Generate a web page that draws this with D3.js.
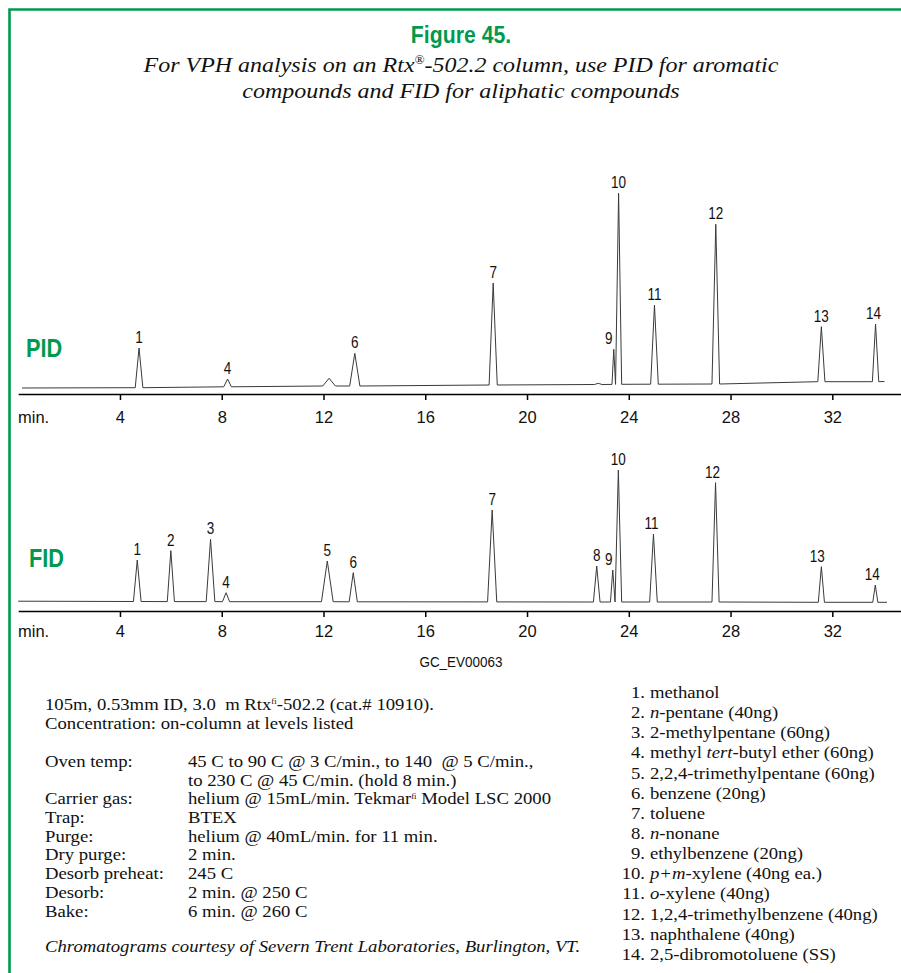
<!DOCTYPE html>
<html lang="en">
<head>
<meta charset="utf-8">
<title>Figure 45</title>
<style>
  body { margin: 0; background: #fff; }
  svg { display: block; }
  .green { fill: #009a4e; font-family: "Liberation Sans", Arial, sans-serif; font-weight: bold; }
  .serif { font-family: "Liberation Serif", "Times New Roman", serif; fill: #111; white-space: pre; }
  .sans { font-family: "Liberation Sans", Arial, sans-serif; fill: #111; }
  .trace { fill: none; stroke: #3a3a3a; stroke-width: 1; stroke-linejoin: round; }
  .axis path, .axis line { stroke: #000; stroke-width: 1.5; }
</style>
<script src="https://d3js.org/d3.v7.min.js"></script>
</head>
<body>
<div id="chart"></div>
<script>
var tickValues = [4, 8, 12, 16, 20, 24, 28, 32];

// PID: peak label, retention time (min), apex signal, base width (min), baseline under the peak
var pidLabels  = ["1", "4", "", "6", "7", "", "9", "10", "11", "12", "13", "14"];
var pidTimes   = [4.75, 8.23, 12.22, 13.23, 18.67, 22.8, 23.41, 23.6, 25.01, 27.42, 31.57, 33.7];
var pidHeights = [40, 9, 9.7, 34.7, 105, 4.7, 38.7, 194.7, 83, 163.7, 61.3, 64];
var pidWidths  = [0.3, 0.3, 0.5, 0.4, 0.32, 0.3, 0.14, 0.24, 0.3, 0.3, 0.28, 0.25];
var pidBase    = [0.3, 1.2, 2, 2, 3, 3.5, 3.6, 3.7, 3.8, 4, 6.3, 6.3];
var pidEnds    = [[0.15, 0], [34.05, 6.5]];

// FID
var fidLabels  = ["1", "2", "3", "4", "5", "6", "7", "8", "9", "10", "11", "12", "13", "14"];
var fidTimes   = [4.68, 6.0, 7.56, 8.17, 12.15, 13.17, 18.63, 22.74, 23.37, 23.59, 24.97, 27.41, 31.57, 33.69];
var fidHeights = [42, 51.3, 62.7, 9.3, 41, 29.3, 92, 36, 32, 132, 68, 119.3, 35.3, 17];
var fidWidths  = [0.3, 0.28, 0.34, 0.28, 0.46, 0.32, 0.36, 0.26, 0.18, 0.26, 0.3, 0.28, 0.24, 0.2];
var fidBase    = [0.5, 0.4, 0.4, 0.3, 0.3, 0.2, 0.1, 0, 0, 0, 0, 0, -0.3, -0.3];
var fidEnds    = [[0, 0.8], [34.15, -0.3]];

var compounds = [
  "methanol",
  "<i>n</i>-pentane (40ng)",
  "2-methylpentane (60ng)",
  "methyl <i>tert</i>-butyl ether (60ng)",
  "2,2,4-trimethylpentane (60ng)",
  "benzene (20ng)",
  "toluene",
  "<i>n</i>-nonane",
  "ethylbenzene (20ng)",
  "<i>p+m</i>-xylene (40ng ea.)",
  "<i>o</i>-xylene (40ng)",
  "1,2,4-trimethylbenzene (40ng)",
  "naphthalene (40ng)",
  "2,5-dibromotoluene (SS)"
];

var condLabels = ["Oven temp:", "", "Carrier gas:", "Trap:", "Purge:", "Dry purge:", "Desorb preheat:", "Desorb:", "Bake:"];
var condValues = [
  "45 C to 90 C @ 3 C/min., to 140  @ 5 C/min.,",
  "to 230 C @ 45 C/min. (hold 8 min.)",
  "helium @ 15mL/min. Tekmar^fi^ Model LSC 2000",
  "BTEX",
  "helium @ 40mL/min. for 11 min.",
  "2 min.",
  "245 C",
  "2 min. @ 250 C",
  "6 min. @ 260 C"
];

var W = 901, H = 973;
var svg = d3.select("#chart").append("svg").attr("width", W).attr("height", H);

svg.append("path")
  .attr("d", "M9.5," + H + "V9.5H" + W)
  .attr("fill", "none").attr("stroke", "#009a4e").attr("stroke-width", 2.6);

// condensed text: horizontal squeeze around the anchor point
function squeezed(parent, cls, px, py, sx, size, str, anchor) {
  return parent.append("text").attr("class", cls)
    .attr("transform", "translate(" + px + "," + py + ") scale(" + sx + ",1)")
    .attr("text-anchor", anchor || "start")
    .style("font-size", size + "px").text(str);
}

squeezed(svg, "green", 461, 43, 0.885, 24, "Figure 45.", "middle");

// write a string with ^sup^ and <i>italic</i> pieces into a text element
function rich(sel, str, supSize) {
  var parts = str.split(/(\^[^^]*\^|<i>.*?<\/i>)/);
  var shift = 0;
  parts.forEach(function(p) {
    if (!p) return;
    if (p[0] === "^") {
      sel.append("tspan").attr("dy", -supSize * 0.7).style("font-size", supSize + "px").text(p.slice(1, -1));
      shift = supSize * 0.7;
    } else if (p.indexOf("<i>") === 0) {
      sel.append("tspan").attr("dy", shift || null).style("font-style", "italic").text(p.slice(3, -4));
      shift = 0;
    } else {
      sel.append("tspan").attr("dy", shift || null).text(p);
      shift = 0;
    }
  });
}

var subG = svg.append("g").attr("transform", "translate(461,0) scale(1.09,1)");
var sub1 = subG.append("text").attr("class", "serif").attr("x", 0).attr("y", 72)
  .attr("text-anchor", "middle").style("font-style", "italic").style("font-size", "22px");
rich(sub1, "For VPH analysis on an Rtx^®^-502.2 column, use PID for aromatic", 12);
subG.append("text").attr("class", "serif").attr("x", 0).attr("y", 98)
  .attr("text-anchor", "middle").style("font-style", "italic").style("font-size", "22px")
  .text("compounds and FID for aliphatic compounds");

var x = d3.scaleLinear().domain([0, 34.7]).range([18.2, W]);

function drawPanel(p) {
  var y = d3.scaleLinear().domain([0, 200]).range([p.zeroY, p.zeroY - 200]);
  var g = svg.append("g");

  var axis = g.append("g").attr("class", "axis")
    .attr("transform", "translate(0," + p.axisY + ")")
    .call(d3.axisBottom(x).tickValues(tickValues).tickSize(6).tickSizeOuter(0));
  axis.selectAll("text")
    .attr("class", "sans").attr("y", p.tickY).attr("dy", null)
    .style("font-size", "16.5px").attr("fill", "#111");
  g.append("text").attr("class", "sans")
    .attr("x", 18).attr("y", p.axisY + p.tickY)
    .style("font-size", "16.5px").text("min.");

  var pts = [p.ends[0]];
  p.times.forEach(function(t, i) {
    pts.push([t - p.widths[i] / 2, p.base[i]]);
    pts.push([t, p.heights[i]]);
    pts.push([t + p.widths[i] / 2, p.base[i]]);
  });
  pts.push(p.ends[1]);

  g.append("path").attr("class", "trace")
    .attr("d", d3.line().x(function(d) { return x(d[0]); }).y(function(d) { return y(d[1]); })(pts));

  p.labels.forEach(function(lab, i) {
    if (!lab) return;
    squeezed(g, "sans", x(p.times[i]) + (p.nudge[lab] || 0), y(p.heights[i]) - 5, 0.82, 16.5, lab, "middle");
  });

  squeezed(g, "green", p.nameX, p.nameY, 0.82, 26.5, p.name);
}

drawPanel({
  name: "PID", nameX: 26, nameY: 357, zeroY: 388, axisY: 394, tickY: 29,
  labels: pidLabels, times: pidTimes, heights: pidHeights, widths: pidWidths, base: pidBase, ends: pidEnds,
  nudge: { "9": -5, "14": -2 }
});
drawPanel({
  name: "FID", nameX: 29, nameY: 567, zeroY: 602, axisY: 611, tickY: 26,
  labels: fidLabels, times: fidTimes, heights: fidHeights, widths: fidWidths, base: fidBase, ends: fidEnds,
  nudge: { "9": -4, "11": -2, "12": -3, "13": -4, "14": -3 }
});

squeezed(svg, "sans", 461, 667, 0.93, 14.5, "GC_EV00063", "middle");

// column and conditions block (Times, slightly widened like the print)
var left = svg.append("g").attr("transform", "translate(45,0) scale(1.1,1)");
var t1 = left.append("text").attr("class", "serif").attr("x", 0).attr("y", 710).style("font-size", "17px");
rich(t1, "105m, 0.53mm ID, 3.0  m Rtx^fi^-502.2 (cat.# 10910).", 8);
left.append("text").attr("class", "serif").attr("x", 0).attr("y", 729).style("font-size", "17px")
  .text("Concentration: on-column at levels listed");

condLabels.forEach(function(lab, i) {
  var yy = 767 + i * 18.7;
  left.append("text").attr("class", "serif").attr("x", 0).attr("y", yy).style("font-size", "17px").text(lab);
  var v = left.append("text").attr("class", "serif").attr("x", 130).attr("y", yy).style("font-size", "17px");
  rich(v, condValues[i], 8);
});

left.append("text").attr("class", "serif").attr("x", 0).attr("y", 952)
  .style("font-size", "17px").style("font-style", "italic")
  .text("Chromatograms courtesy of Severn Trent Laboratories, Burlington, VT.");

// compound list
var right = svg.append("g").attr("transform", "translate(645,0) scale(1.1,1)");
compounds.forEach(function(c, i) {
  var yy = 698 + i * 20.15;
  right.append("text").attr("class", "serif").attr("x", 0).attr("y", yy)
    .attr("text-anchor", "end").style("font-size", "17px").text((i + 1) + ".");
  var t = right.append("text").attr("class", "serif").attr("x", 4.5).attr("y", yy).style("font-size", "17px");
  rich(t, c, 8);
});
</script>
</body>
</html>
